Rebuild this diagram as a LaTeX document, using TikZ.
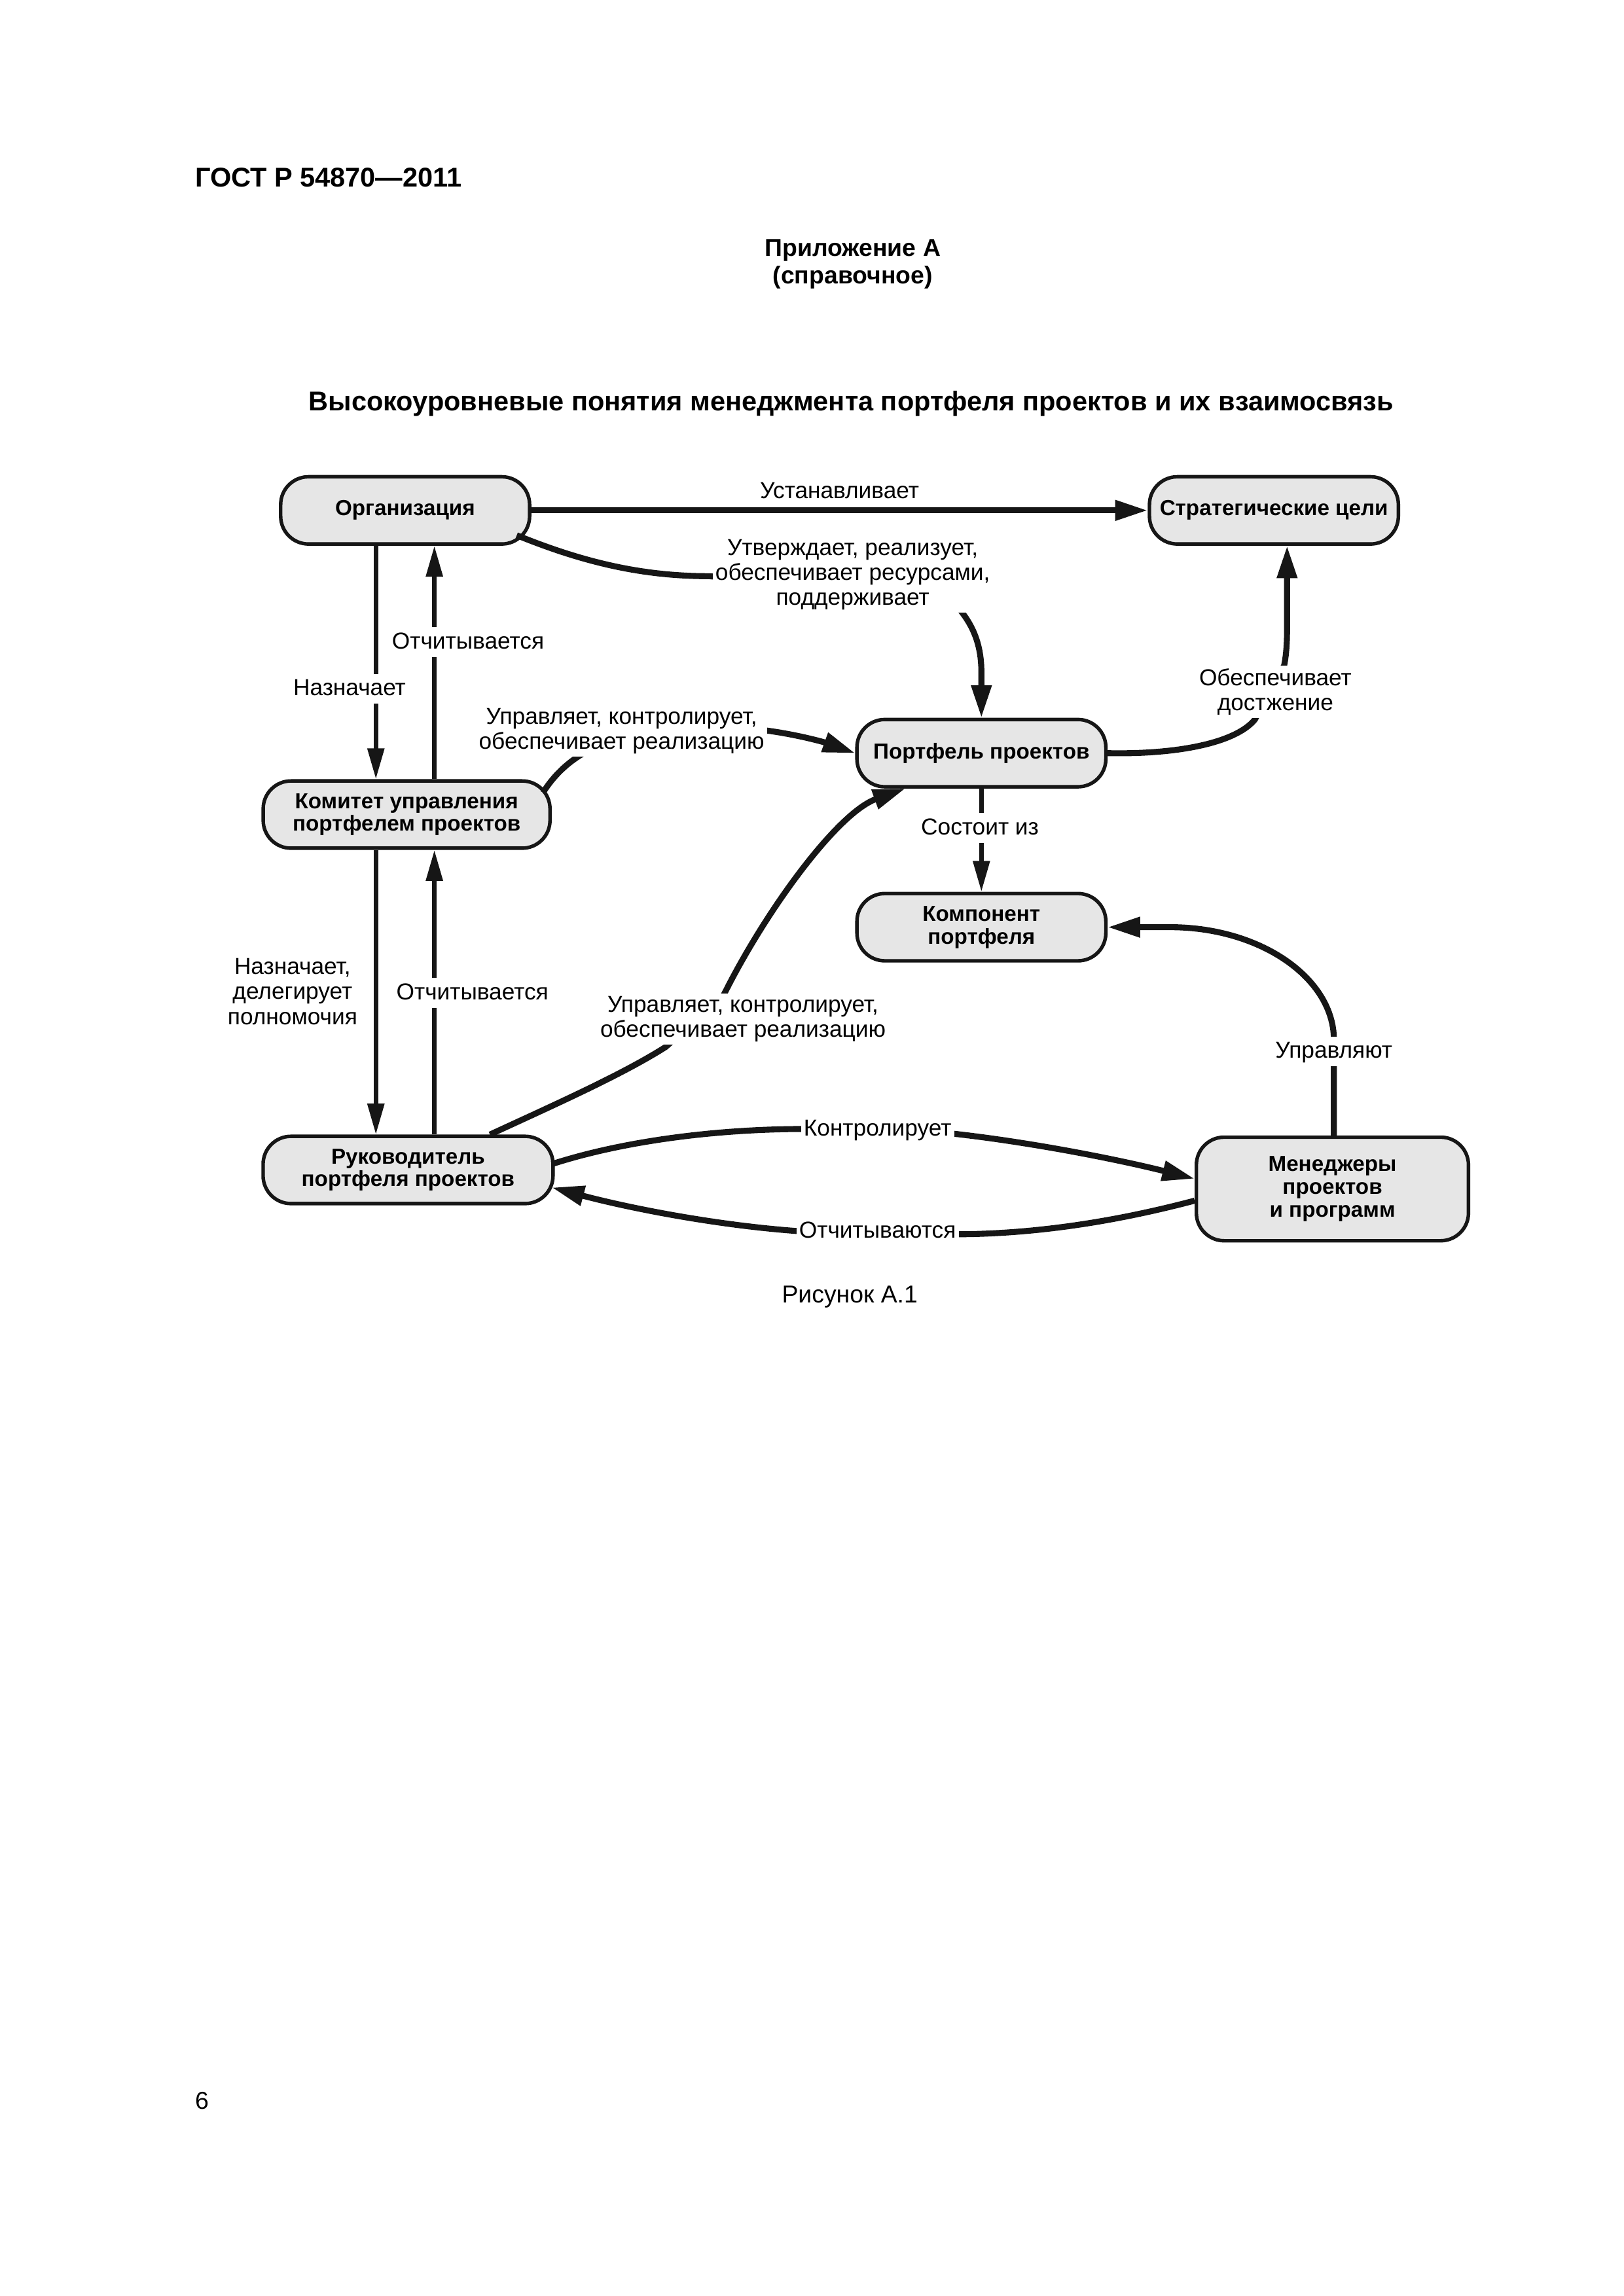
\documentclass[tikz,border=0pt]{standalone}
\usepackage{fontspec}
\setmainfont{Liberation Sans}
\usetikzlibrary{arrows.meta,calc}
\definecolor{boxfill}{RGB}{230,230,230}
\definecolor{ink}{RGB}{22,22,22}
\begin{document}
\begin{tikzpicture}[x=0.18919mm,y=-0.18919mm,
  box/.style={draw=ink,line width=1.3pt,fill=boxfill,rounded corners=3.6mm,
    minimum height=8.7mm,inner sep=0pt,align=center,
    font=\fontsize{8}{8.4}\selectfont\bfseries},
  lbl/.style={font=\fontsize{8.5}{9.2}\selectfont,align=center,inner sep=1pt,fill=white},
  lbls/.style={lbl,text height=0.7em,text depth=0.2em},
  conn/.style={draw=ink,line width=2.2pt},
  connthin/.style={draw=ink,line width=1.6pt},
  tipthick/.style={-{Triangle[length=4.2mm,width=2.5mm]}},
  tipthin/.style={-{Triangle[length=4mm,width=2.1mm]}},
  plain/.style={inner sep=0pt,anchor=base}
]
\useasboundingbox (0,0) rectangle (1110,1570);
\fill[white] (0,0) rectangle (1110,1570);

% page texts
\node[plain,anchor=base west,font=\fontsize{10}{12}\selectfont\bfseries] (gost) at (133,128) {ГОСТ Р 54870—2011};
\node[plain,font=\fontsize{9}{10}\selectfont\bfseries] (app) at (583,175) {Приложение А};
\node[plain,font=\fontsize{9}{10}\selectfont\bfseries] (appsub) at (583,194) {(справочное)};
\node[plain,font=\fontsize{10}{12}\selectfont\bfseries] (title) at (582,281) {Высокоуровневые понятия менеджмента портфеля проектов и их взаимосвязь};
\node[plain,font=\fontsize{9}{10}\selectfont] (fig) at (581,891) {Рисунок А.1};
\node[plain,anchor=base west,font=\fontsize{9}{10}\selectfont] (pageno) at (133,1442) {6};

% boxes
\node[box,minimum width=32.2mm] (org) at (277,349) {Организация};
\node[box,minimum width=32.2mm] (strat) at (871,349) {Стратегические цели};
\node[box,minimum width=32.2mm] (port) at (671,515) {Портфель проектов};
\node[box,minimum width=37.1mm] (kom) at (278,557) {Комитет управления\\портфелем проектов};
\node[box,minimum width=32.2mm] (komp) at (671,634) {Компонент\\портфеля};
\node[box,minimum width=37.5mm] (ruk) at (279,800) {Руководитель\\портфеля проектов};
\node[box,minimum width=35.2mm,minimum height=13.4mm] (men) at (911,813) {Менеджеры\\проектов\\и программ};

\coordinate (xa) at (257,0);
\coordinate (xb) at (297,0);

% connectors
\draw[conn,tipthick] (org) -- (strat);
\draw[conn,tipthick] ($(org.east)+(-10,17)$) .. controls (400,385) and (440,394) .. (485,394)
   -- (650,410) .. controls (665,425) and (671,440) .. (671,460) -- (port.north);
\draw[connthin,tipthin] (org.south -| xa) -- (kom.north -| xa);
\draw[connthin,tipthin] (kom.north -| xb) -- (org.south -| xb);
\draw[conn,tipthick] ($(kom.east)+(-6,-15)$) .. controls (380,528) and (392,518) .. (405,512)
   -- (520,499) .. controls (545,502) and (565,508) .. (port.west);
\draw[conn,tipthick] (port.east) .. controls (805,516) and (845,508) .. (858,492)
   -- (878,455) .. controls (880,445) and (880,435) .. (880,425) -- ($(strat.south)+(9,0)$);
\draw[connthin,tipthin] (port.south) -- (komp.north);
\draw[connthin,tipthin] (kom.south -| xa) -- (ruk.north -| xa);
\draw[connthin,tipthin] (ruk.north -| xb) -- (kom.south -| xb);
\draw[conn,tipthick] ($(ruk.north)+(56,0)$) .. controls (380,755) and (425,735) .. (455,716)
   -- (494,682) .. controls (522,625) and (572,556) .. ($(port.south)+(-52,0)$);
\draw[conn,tipthick] ($(ruk.east)+(-2,-4)$) .. controls (430,779) and (495,772) .. (550,772)
   -- (650,775) .. controls (705,781) and (765,793) .. ($(men.west)+(0,-7)$);
\draw[conn,tipthick] ($(men.west)+(0,8)$) .. controls (760,836) and (705,844) .. (652,844)
   -- (548,842) .. controls (490,838) and (430,826) .. ($(ruk.east)+(-2,12)$);
\draw[conn,tipthick] ($(men.north)+(1,0)$) -- (912,711) .. controls (912,669) and (862,634) .. (800,634) -- (komp.east);

% labels
\node[lbls] (lust) at (574,336) {Устанавливает};
\node[lbl] (lutv) at (583,393) {Утверждает, реализует,\\обеспечивает ресурсами,\\поддерживает};
\node[lbls] (lnazn) at (239,471) {Назначает};
\node[lbls] (lotch) at (320,439) {Отчитывается};
\node[lbl] (lupr) at (425,500) {Управляет, контролирует,\\обеспечивает реализацию};
\node[lbl] (lobesp) at (872,473) {Обеспечивает\\достжение};
\node[lbls] (lsost) at (670,566) {Состоит из};
\node[lbl,fill=none] (lnazn2) at (200,678) {Назначает,\\делегирует\\полномочия};
\node[lbls] (lotch2) at (323,679) {Отчитывается};
\node[lbl] (lupr2) at (508,697) {Управляет, контролирует,\\обеспечивает реализацию};
\node[lbls] (lupr3) at (912,719) {Управляют};
\node[lbls] (lkontr) at (600,772) {Контролирует};
\node[lbls] (lotchm) at (600,842) {Отчитываются};
\end{tikzpicture}
\end{document}
